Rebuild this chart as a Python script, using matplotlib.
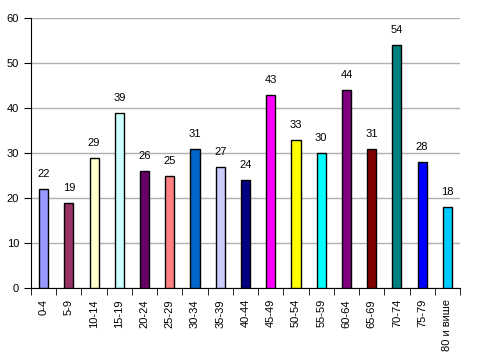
import numpy as np
import matplotlib.pyplot as plt

plt.rcParams['font.family'] = ['Liberation Sans', 'DejaVu Sans']

age_groups = ["0-4", "5-9", "10-14", "15-19", "20-24", "25-29", "30-34", "35-39",
              "40-44", "45-49", "50-54", "55-59", "60-64", "65-69", "70-74", "75-79",
              "80 и више"]
counts = [22, 19, 29, 39, 26, 25, 31, 27, 24, 43, 33, 30, 44, 31, 54, 28, 18]
bar_colors = ["#9999FF", "#993366", "#FFFFCC", "#CCFFFF", "#660066", "#FF8080",
              "#0066CC", "#CCCCFF", "#000080", "#FF00FF", "#FFFF00", "#00FFFF",
              "#800080", "#800000", "#008080", "#0000FF", "#00CCFF"]

fig = plt.figure(figsize=(4.79, 3.59), dpi=100)
ax = fig.add_axes([31 / 479, 1 - 288 / 359, (460 - 31) / 479, (288 - 18) / 359])

x = np.arange(len(counts))
ax.bar(x, counts, width=0.36, color=bar_colors, edgecolor="black", linewidth=1, zorder=3)
for xi, v in zip(x, counts):
    ax.text(xi, v + 2.2, str(v), ha="center", va="bottom", fontsize=8)

ax.set_xlim(-0.5, len(counts) - 0.5)
ax.set_ylim(0, 60)
ax.set_yticks(range(0, 61, 10))
ax.yaxis.grid(True, color="#B0B0B0", linewidth=1, zorder=0)

ax.set_xticks(x)
ax.set_xticklabels(age_groups, rotation=90, fontsize=8)
ax.tick_params(axis="x", length=0, pad=8)
ax.set_xticks(np.arange(-0.5, len(counts)), minor=True)
ax.tick_params(axis="x", which="minor", length=5, direction="out")
ax.tick_params(axis="y", length=5, labelsize=8)

for s in ["top", "right"]:
    ax.spines[s].set_visible(False)

plt.savefig("out.png", dpi=100)
